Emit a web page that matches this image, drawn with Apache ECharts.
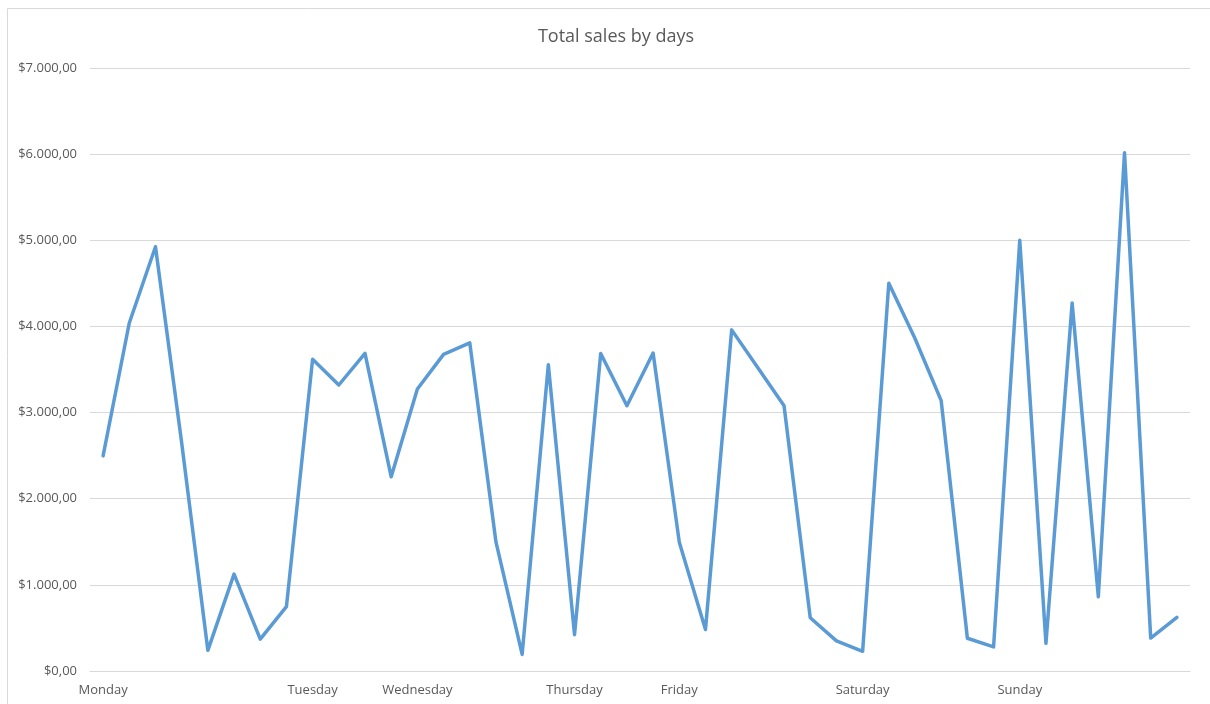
<!DOCTYPE html>
<html>
<head>
<meta charset="utf-8">
<title>Total sales by days</title>
<script src="https://cdn.jsdelivr.net/npm/echarts@6/dist/echarts.min.js"></script>
<style>
  html, body { margin: 0; padding: 0; background: #ffffff; }
  #chart { width: 1210px; height: 704px; }
</style>
</head>
<body>
<div id="chart"></div>
<script>
// One row per sale entry; the day name is shown on the first entry of each day.
const dayLabels = [
  'Monday', '', '', '', '', '', '', '',
  'Tuesday', '', '', '',
  'Wednesday', '', '', '', '', '',
  'Thursday', '', '', '',
  'Friday', '', '', '', '', '', '',
  'Saturday', '', '', '', '', '', 
  'Sunday', '', '', '', '', '', ''
];

// Total sales per entry, in dollars
const totalSales = [
  2497, 4040, 4925, 2650, 240, 1125, 370, 748,
  3620, 3320, 3688, 2254,
  3273, 3676, 3810, 1498, 192, 3556,
  422, 3686, 3080, 3692,
  1496, 482, 3960, 3520, 3080, 618, 350,
  229, 4502, 3860, 3138, 380, 280,
  5000, 322, 4272, 862, 6015, 382, 622
];

// Y axis range and step
const yMin = 0;
const yMax = 7000;
const yStep = 1000;

const textColor = '#595959';
const gridColor = '#d9d9d9';
const fontFamily = '"Open Sans", "Liberation Sans", sans-serif';

// Money in the "$7.000,00" style (dot thousands, comma decimals)
function formatMoney(v) {
  const parts = Math.abs(v).toFixed(2).split('.');
  const intPart = parts[0].replace(/\B(?=(\d{3})+(?!\d))/g, '.');
  return '$' + intPart + ',' + parts[1];
}

const chart = echarts.init(document.getElementById('chart'), null, { renderer: 'canvas' });

chart.setOption({
  backgroundColor: '#ffffff',
  animation: false,
  title: {
    text: 'Total sales by days',
    left: 611,
    top: 23,
    textAlign: 'center',
    textStyle: {
      color: textColor,
      fontSize: 18,
      fontWeight: 'normal',
      fontFamily: fontFamily
    }
  },
  graphic: [{
    type: 'rect',
    shape: { x: 7.5, y: 8.5, width: 1220, height: 720 },
    style: { fill: 'none', stroke: gridColor, lineWidth: 1 },
    silent: true,
    z: -1
  }],
  grid: {
    left: 90,
    right: 20,
    top: 68,
    bottom: 33,
    containLabel: false
  },
  xAxis: {
    type: 'category',
    data: dayLabels,
    boundaryGap: true,
    axisLine: { show: true, lineStyle: { color: gridColor, width: 1 } },
    axisTick: { show: false },
    splitLine: { show: false },
    axisLabel: {
      interval: 0,
      color: textColor,
      fontSize: 13,
      fontFamily: fontFamily,
      margin: 13
    }
  },
  yAxis: {
    type: 'value',
    min: yMin,
    max: yMax,
    interval: yStep,
    axisLine: { show: false },
    axisTick: { show: false },
    splitLine: { show: true, lineStyle: { color: gridColor, width: 1 } },
    axisLabel: {
      color: textColor,
      fontSize: 13,
      fontFamily: fontFamily,
      margin: 13,
      formatter: formatMoney
    }
  },
  series: [{
    name: 'Total sales',
    type: 'line',
    data: totalSales,
    symbol: 'none',
    smooth: false,
    lineStyle: {
      color: '#5B9BD5',
      width: 3.5,
      cap: 'round',
      join: 'round'
    },
    itemStyle: { color: '#5B9BD5' }
  }]
});
</script>
</body>
</html>
